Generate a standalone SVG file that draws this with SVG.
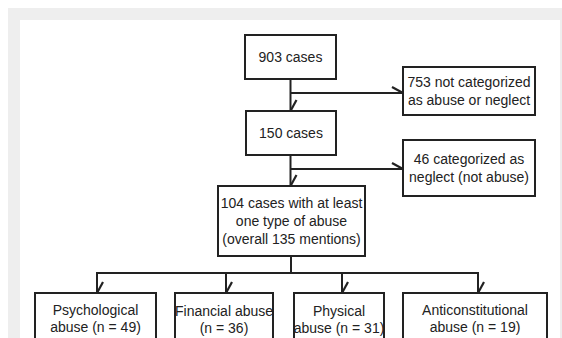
<svg xmlns="http://www.w3.org/2000/svg" width="562" height="338" viewBox="0 0 562 338">
<defs>
<style>
.box{fill:#fff;stroke:#222;stroke-width:2}
.t{font-family:"Liberation Sans",Arial,sans-serif;font-size:14px;fill:#222;text-anchor:middle;dominant-baseline:central}
.c{fill:none;stroke:#222;stroke-width:2}
</style>
<marker id="barb" viewBox="-14 -9 16 11" markerWidth="16" markerHeight="11" refX="0" refY="0" orient="auto" markerUnits="userSpaceOnUse">
<path d="M0,0 L-11,-6" fill="none" stroke="#222" stroke-width="2.2"/>
</marker>
</defs>
<rect x="8" y="8" width="554" height="330" fill="#eeeeee"/>
<rect x="20" y="20" width="540" height="318" fill="#ffffff"/>
<g id="connectors">
<path class="c" d="M290.5,79 V111" marker-end="url(#barb)"/>
<path class="c" d="M290.5,93 H403" marker-end="url(#barb)"/>
<path class="c" d="M290.5,155 V186" marker-end="url(#barb)"/>
<path class="c" d="M290.5,169 H403" marker-end="url(#barb)"/>
<path class="c" d="M291,256 V273"/>
<path class="c" d="M97,273 H478"/>
<path class="c" d="M97,272 V293" marker-end="url(#barb)"/>
<path class="c" d="M226,272 V293" marker-end="url(#barb)"/>
<path class="c" d="M342,272 V293" marker-end="url(#barb)"/>
<path class="c" d="M478,272 V293" marker-end="url(#barb)"/>
</g>
<g id="n903"><rect class="box" x="245" y="35" width="91" height="44"/><text class="t" x="290.5" y="57">903 cases</text></g>
<g id="n753"><rect class="box" x="403" y="67" width="132" height="48"/><text class="t" x="469" y="82">753 not categorized</text><text class="t" x="469" y="100">as abuse or neglect</text></g>
<g id="n150"><rect class="box" x="246" y="111" width="90" height="44"/><text class="t" x="291" y="133">150 cases</text></g>
<g id="n46"><rect class="box" x="403" y="140" width="132" height="56"/><text class="t" x="469" y="159">46 categorized as</text><text class="t" x="469" y="177">neglect (not abuse)</text></g>
<g id="n104"><rect class="box" x="218" y="186" width="147" height="70"/><text class="t" x="291.5" y="203">104 cases with at least</text><text class="t" x="291.5" y="221">one type of abuse</text><text class="t" x="291.5" y="239">(overall 135 mentions)</text></g>
<g id="psych"><rect class="box" x="35" y="293" width="121" height="60"/><text class="t" x="95.5" y="310">Psychological</text><text class="t" x="95.5" y="327">abuse (n = 49)</text></g>
<g id="fin"><rect class="box" x="175" y="293" width="98" height="60"/><text class="t" x="224" y="311">Financial abuse</text><text class="t" x="224" y="328">(n = 36)</text></g>
<g id="phys"><rect class="box" x="294" y="293" width="90" height="60"/><text class="t" x="339" y="311">Physical</text><text class="t" x="339" y="328">abuse (n = 31)</text></g>
<g id="anti"><rect class="box" x="403" y="293" width="144" height="60"/><text class="t" x="475" y="310">Anticonstitutional</text><text class="t" x="475" y="327">abuse (n = 19)</text></g>
</svg>
